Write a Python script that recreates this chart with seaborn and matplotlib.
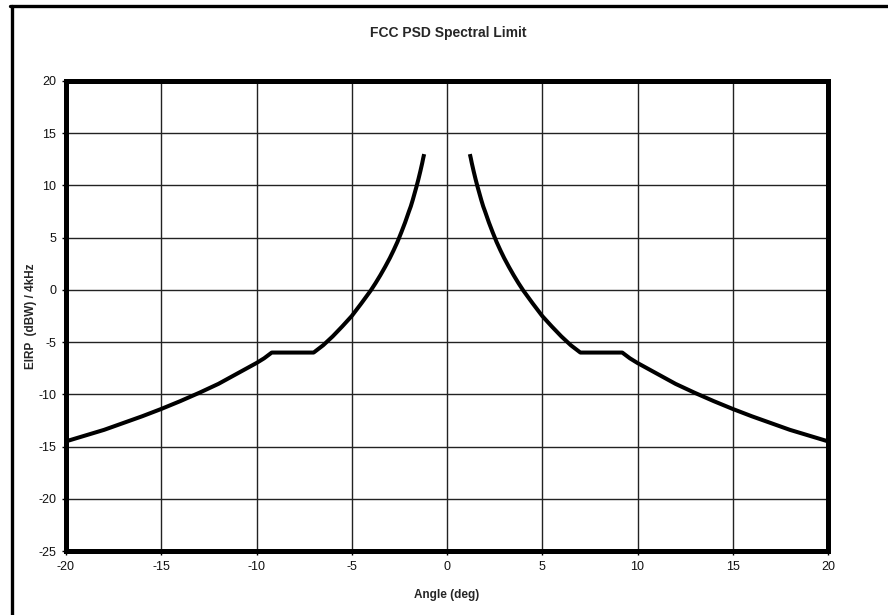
import matplotlib
matplotlib.use("Agg")
import matplotlib.pyplot as plt
from matplotlib.lines import Line2D
import seaborn as sns
import pandas as pd

# Off-axis angle (deg) and EIRP limit (dBW / 4kHz) for one side of the mask
angle = [1.2, 1.25, 1.3, 1.35, 1.4, 1.5, 1.6, 1.7, 1.8, 1.9, 2.0, 2.2, 2.4,
         2.6, 2.8, 3.0, 3.25, 3.5, 3.75, 4.0, 4.5, 5.0, 5.5, 6.0, 6.5, 7.0,
         9.2, 9.6, 10.0, 10.5, 11.0, 11.5, 12.0, 13.0, 14.0, 15.0, 16.0, 17.0,
         18.0, 19.0, 20.0]
eirp = [13.0, 12.6, 12.15, 11.75, 11.35, 10.6, 9.9, 9.25, 8.6, 8.0, 7.5, 6.45,
        5.5, 4.6, 3.8, 3.05, 2.2, 1.4, 0.65, -0.05, -1.3, -2.5, -3.5, -4.45,
        -5.3, -6.0, -6.0, -6.55, -7.0, -7.5, -8.0, -8.5, -9.0, -9.85, -10.65,
        -11.4, -12.1, -12.75, -13.4, -13.95, -14.5]

x_ticks = [-20, -15, -10, -5, 0, 5, 10, 15, 20]
y_ticks = [-25, -20, -15, -10, -5, 0, 5, 10, 15, 20]

right = pd.DataFrame({"angle": angle, "eirp": eirp})
left = pd.DataFrame({"angle": [-a for a in angle], "eirp": eirp})

sns.set_theme(style="white")
plt.rcParams["font.family"] = ["Liberation Sans", "DejaVu Sans"]
plt.rcParams["axes.unicode_minus"] = False

fig = plt.figure(figsize=(8.88, 6.15), dpi=100)
ax = fig.add_axes([66 / 888, 1 - 551 / 615, (828 - 66) / 888, (551 - 81) / 615])

for df in (left, right):
    sns.lineplot(data=df, x="angle", y="eirp", sort=False, color="black",
                 linewidth=2.9, ax=ax, estimator=None,
                 solid_joinstyle="round", solid_capstyle="butt")

ax.set_xlim(-20, 20)
ax.set_ylim(-25, 20)
ax.set_xticks(x_ticks)
ax.set_yticks(y_ticks)
ax.grid(True, color="#222222", linewidth=1.0)
ax.set_axisbelow(True)
for s in ax.spines.values():
    s.set_color("black")
    s.set_linewidth(3.6)
ax.tick_params(axis="both", which="major", direction="out", length=3,
               width=1, color="black", labelsize=9, pad=4,
               bottom=True, left=True, labelcolor="#111111")

ax.set_xlabel("Angle (deg)", fontsize=8.5, fontweight="bold", labelpad=12)
ax.set_ylabel("EIRP  (dBW) / 4kHz", fontsize=8.5, fontweight="bold", labelpad=1)
fig.text(448 / 888, 1 - 33 / 615, "FCC PSD Spectral Limit", ha="center",
         va="center", fontsize=10, fontweight="bold")

# Outer frame of the figure (left and top edges)
fig.add_artist(Line2D([11.5 / 888, 11.5 / 888], [0, 1 - 6 / 615],
                      transform=fig.transFigure, color="black", linewidth=2.4))
fig.add_artist(Line2D([10 / 888, 1], [1 - 6 / 615, 1 - 6 / 615],
                      transform=fig.transFigure, color="black", linewidth=2.4))

fig.savefig("out.png", dpi=100)
